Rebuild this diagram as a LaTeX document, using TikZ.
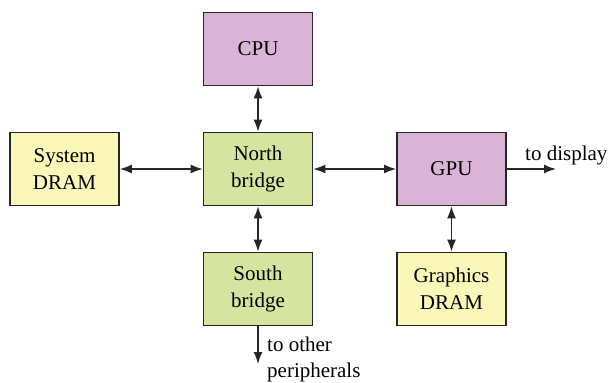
\documentclass[tikz,border=0pt]{standalone}
\usepackage{fontspec}
\setmainfont{Liberation Serif}
\usetikzlibrary{arrows.meta}
\definecolor{procfill}{RGB}{218,180,214}
\definecolor{bridgefill}{RGB}{213,228,158}
\definecolor{memfill}{RGB}{250,247,185}
\begin{document}
\begin{tikzpicture}[x=1pt,y=-1pt,
  blockbox/.style={draw=black!85, line width=1.7pt, minimum width=109pt, minimum height=73pt,
    inner sep=0pt, align=center, font=\fontsize{21}{27}\selectfont},
  link/.style={line width=1.4pt, black!85, {Latex[length=12pt,width=9pt]}-{Latex[length=12pt,width=9pt]}},
  outlink/.style={line width=1.4pt, black!85, -{Latex[length=12pt,width=9pt]}},
  lbl/.style={font=\fontsize{21}{26}\selectfont, inner sep=0pt, align=left}]
  \useasboundingbox (0,0) rectangle (611,383);
  % processors, bridges and memories
  \node[blockbox, fill=procfill] (cpu) at (258,49) {CPU};
  \node[blockbox, fill=memfill] (sdram) at (64.5,169) {System\\DRAM};
  \node[blockbox, fill=bridgefill] (nb) at (258,169) {North\\bridge};
  \node[blockbox, fill=procfill] (gpu) at (451.5,169) {GPU};
  \node[blockbox, fill=bridgefill] (sb) at (258,289) {South\\bridge};
  \node[blockbox, fill=memfill] (gdram) at (451.5,289) {Graphics\\DRAM};
  % free ends of the outgoing links
  \coordinate (disp) at (556,169);
  \coordinate (periph) at (258,364);
  % buses
  \draw[link] (cpu) -- (nb);
  \draw[link] (sdram) -- (nb);
  \draw[link] (nb) -- (gpu);
  \draw[link] (nb) -- (sb);
  \draw[link] (gpu) -- (gdram);
  \draw[outlink] (gpu) -- (disp);
  \draw[outlink] (sb) -- (periph);
  % labels on the outgoing links
  \node[lbl, anchor=base west] (displbl) at (525,160) {to display};
  \node[lbl, anchor=base west] (periphlbl) at (267,377) {to other\\peripherals};
\end{tikzpicture}
\end{document}
